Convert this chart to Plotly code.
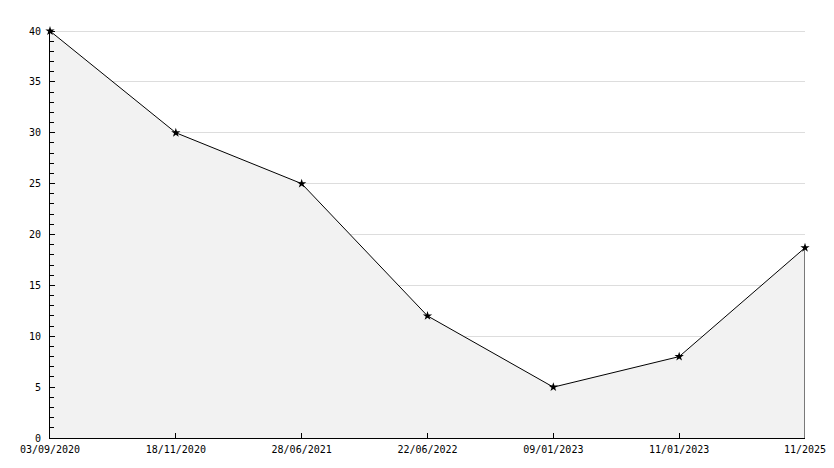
import plotly.graph_objects as go

# dados
datas = ["03/09/2020", "18/11/2020", "28/06/2021", "22/06/2022",
         "09/01/2023", "11/01/2023", "11/2025"]
valores = [40, 30, 25, 12, 5, 8, 18.7]

FONTE = dict(family="DejaVu Sans Mono", size=10, color="black")

fig = go.Figure()

# área + linha
fig.add_trace(go.Scatter(
    x=datas, y=valores,
    mode="lines+markers",
    fill="tozeroy",
    fillcolor="#f2f2f2",
    line=dict(color="black", width=1),
    marker=dict(symbol="star", size=7, color="black"),
    hoverinfo="x+y",
    cliponaxis=False,
))

# borda vertical no último ponto
fig.add_trace(go.Scatter(
    x=[datas[-1], datas[-1]], y=[0, valores[-1]],
    mode="lines",
    line=dict(color="black", width=1),
    hoverinfo="skip",
    cliponaxis=False,
))

# a página tem 8px de margem no body, compensado aqui
fig.update_layout(
    width=834, height=468,
    margin=dict(l=42, r=37, t=22, b=38),
    paper_bgcolor="white",
    plot_bgcolor="white",
    showlegend=False,
    font=FONTE,
)

fig.update_xaxes(
    type="category",
    range=[0, len(datas) - 1],
    automargin=False,
    showgrid=False,
    showline=True, linecolor="black", linewidth=1,
    ticks="inside", ticklen=5, tickcolor="black",
    tickfont=FONTE,
    ticklabelstandoff=2,
    zeroline=False,
)

fig.update_yaxes(
    range=[0, 40.1],
    dtick=5,
    automargin=False,
    showgrid=True, gridcolor="#dddddd", gridwidth=1,
    showline=True, linecolor="black", linewidth=1,
    ticks="inside", ticklen=5, tickcolor="black",
    minor=dict(dtick=1, ticks="inside", ticklen=4, tickcolor="black", showgrid=False),
    tickfont=FONTE,
    ticklabelstandoff=6,
    zeroline=False,
)

fig.write_html("out.html")
